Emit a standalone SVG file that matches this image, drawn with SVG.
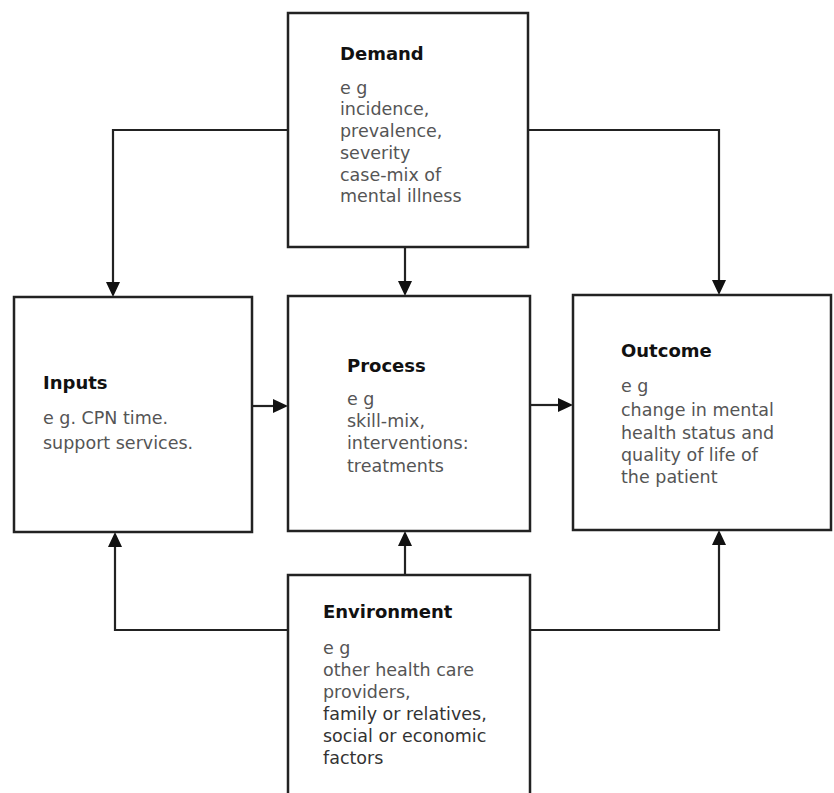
<svg xmlns="http://www.w3.org/2000/svg" width="834" height="793" viewBox="0 0 834 793">
<style>
.box{fill:#fff;stroke:#222;stroke-width:2.5}
.h{font-family:"DejaVu Sans",sans-serif;font-size:18px;font-weight:bold;fill:#111}
.t{font-family:"DejaVu Sans",sans-serif;font-size:17.5px;fill:#555}
.d{fill:#333}
.c{fill:none;stroke:#222;stroke-width:2.2}
</style>
<defs>
<marker id="ah" viewBox="0 0 10 10" refX="10" refY="5" markerWidth="7" markerHeight="7" markerUnits="userSpaceOnUse" orient="auto">
<path d="M0,0 L10,5 L0,10 z" fill="#111"/>
</marker>
</defs>
<rect width="834" height="793" fill="#fff"/>
<g id="connectors">
<path class="c" d="M288,130 H113 V282" />
<polygon points="106,282 120,282 113,297" fill="#111"/>
<path class="c" d="M528,130 H719 V280" />
<polygon points="712,280 726,280 719,295" fill="#111"/>
<path class="c" d="M405,247 V281" />
<polygon points="398,281 412,281 405,296" fill="#111"/>
<path class="c" d="M252,406 H273" />
<polygon points="273,399 273,413 288,406" fill="#111"/>
<path class="c" d="M530,405 H558" />
<polygon points="558,398 558,412 573,405" fill="#111"/>
<path class="c" d="M405,575 V546" />
<polygon points="398,546 412,546 405,531" fill="#111"/>
<path class="c" d="M288,630 H115 V547" />
<polygon points="108,547 122,547 115,532" fill="#111"/>
<path class="c" d="M530,630 H719 V545" />
<polygon points="712,545 726,545 719,530" fill="#111"/>
</g>
<g id="demand">
<rect class="box" x="288" y="13" width="240" height="234"/>
<text class="h" x="340" y="60">Demand</text>
<text class="t" x="340" y="94">e g</text>
<text class="t" x="340" y="115">incidence,</text>
<text class="t" x="340" y="137">prevalence,</text>
<text class="t" x="340" y="159">severity</text>
<text class="t" x="340" y="181">case-mix of</text>
<text class="t" x="340" y="202">mental illness</text>
</g>
<g id="inputs">
<rect class="box" x="14" y="297" width="238" height="235"/>
<text class="h" x="43" y="389">Inputs</text>
<text class="t" x="43" y="424">e g. CPN time.</text>
<text class="t" x="43" y="449">support services.</text>
</g>
<g id="process">
<rect class="box" x="288" y="296" width="242" height="235"/>
<text class="h" x="347" y="372">Process</text>
<text class="t" x="347" y="405">e g</text>
<text class="t" x="347" y="427">skill-mix,</text>
<text class="t" x="347" y="449">interventions:</text>
<text class="t" x="347" y="472">treatments</text>
</g>
<g id="outcome">
<rect class="box" x="573" y="295" width="258" height="235"/>
<text class="h" x="621" y="357">Outcome</text>
<text class="t" x="621" y="392">e g</text>
<text class="t" x="621" y="416">change in mental</text>
<text class="t" x="621" y="439">health status and</text>
<text class="t" x="621" y="461">quality of life of</text>
<text class="t" x="621" y="483">the patient</text>
</g>
<g id="environment">
<rect class="box" x="288" y="575" width="242" height="240"/>
<text class="h" x="323" y="618">Environment</text>
<text class="t" x="323" y="654">e g</text>
<text class="t" x="323" y="676">other health care</text>
<text class="t" x="323" y="698">providers,</text>
<text class="t d" x="323" y="720">family or relatives,</text>
<text class="t d" x="323" y="742">social or economic</text>
<text class="t d" x="323" y="764">factors</text>
</g>
</svg>
